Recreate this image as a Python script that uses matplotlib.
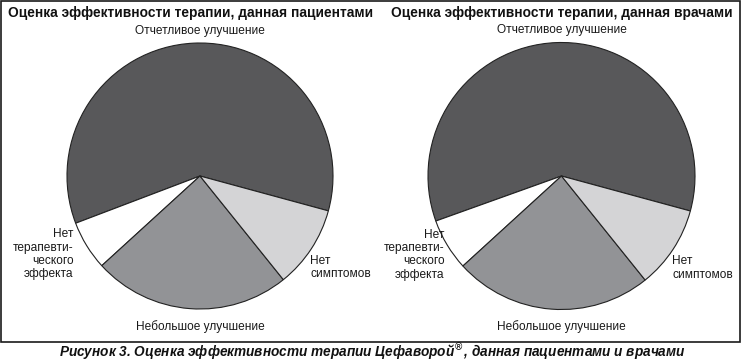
import matplotlib.pyplot as plt
from matplotlib.patches import Rectangle

plt.rcParams['font.family'] = ['Liberation Sans', 'DejaVu Sans']

# slices, counter-clockwise starting from the right edge of the big slice
categories = ['Отчетливое улучшение', 'Нет\nтерапевти-\nческого\nэффекта',
              'Небольшое улучшение', 'Нет\nсимптомов']
patients = [60, 6, 24, 10]
doctors = [59.7, 6.3, 24, 10]
colors = ['#58585a', '#ffffff', '#929396', '#d4d4d6']

titles = ['Оценка эффективности терапии, данная пациентами',
          'Оценка эффективности терапии, данная врачами']
caption = 'Рисунок 3. Оценка эффективности терапии Цефаворой$^{®}$, данная пациентами и врачами'

W, H = 741, 362
fig = plt.figure(figsize=(W / 100, H / 100), dpi=100)

# frame round the two pies
fig.patches.append(Rectangle((0.5 / W, 1 - 342 / H), 739.5 / W, 341 / H,
                             transform=fig.transFigure, fill=False,
                             edgecolor='#1a1a1a', linewidth=1.2))


def draw_pie(cx, cy, r, values, left_lbl_x, right_lbl_x):
    ax = fig.add_axes([(cx - r) / W, (H - cy - r) / H, 2 * r / W, 2 * r / H])
    ax.pie(values, colors=colors, startangle=-15.2, counterclock=True,
           wedgeprops=dict(edgecolor='#222222', linewidth=0.8))
    ax.set_xlim(-1, 1)
    ax.set_ylim(-1, 1)
    ax.axis('off')
    kw = dict(fontsize=8.6, color='#1a1a1a', clip_on=False, linespacing=1.15)
    ax.text(0, 1.09, categories[0], ha='center', va='center', **kw)
    ax.text(0, -1.13, categories[2], ha='center', va='center', **kw)
    ax.text(left_lbl_x, -0.59, categories[1], ha='right', va='center', **kw)
    ax.text(right_lbl_x, -0.69, categories[3], ha='left', va='center', **kw)
    return ax


draw_pie(200, 176, 133, patients, -0.95, 0.83)
draw_pie(561.5, 176, 133.5, doctors, -0.875, 0.83)

fig.text(8 / W, 1 - 13 / H, titles[0], ha='left', va='center',
         fontsize=9.9, fontweight='bold', color='#111111')
fig.text(733 / W, 1 - 13 / H, titles[1], ha='right', va='center',
         fontsize=9.9, fontweight='bold', color='#111111')
fig.text(372 / W, 1 - 352 / H, caption, ha='center', va='center',
         fontsize=9.8, fontweight='bold', fontstyle='italic', color='#111111')

fig.savefig('out.png', dpi=100)
